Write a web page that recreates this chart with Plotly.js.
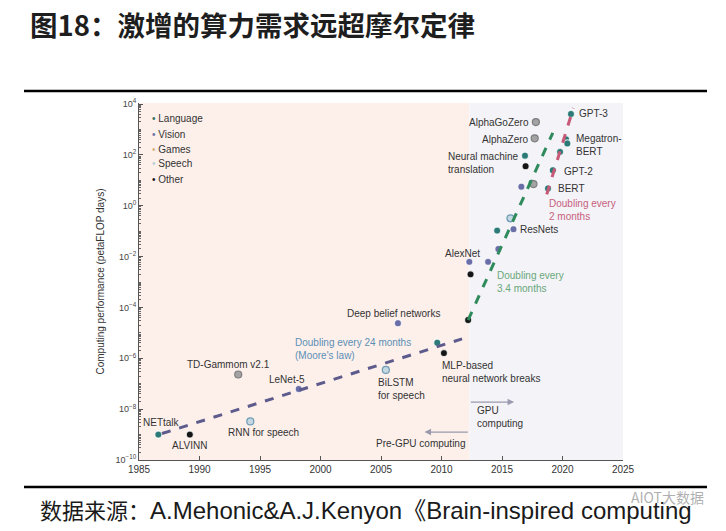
<!DOCTYPE html>
<html><head><meta charset="utf-8">
<script src="https://cdn.plot.ly/plotly-3.0.1.min.js"></script>
<style>body{margin:0;background:#fff}#chart{width:726px;height:531px}</style>
</head><body><div id="chart"></div>
<script>
// ---- data ----
const languageYears  = [1986.6, 2009.65, 2014.6, 2016.9, 2017.45, 2018.8, 2019.2, 2019.8, 2020.3, 2020.4, 2020.7];
const languageValues = [1.0e-9, 4.1e-6, 0.105, 93, 8, 4.8, 25, 132, 407, 282, 4074];
const visionYears    = [1998.2, 2006.4, 2012.3, 2013.85, 2014.7, 2015.95, 2016.6];
const visionValues   = [6.2e-8, 2.4e-5, 6.2e-3, 6.2e-3, 0.02, 0.12, 5.6];
const gamesYears     = [1993.2, 2017.6, 2017.7, 2017.8];
const gamesValues    = [2.3e-7, 7.1, 447, 1950];
const speechYears    = [1994.2, 2005.4, 2015.7];
const speechValues   = [3.3e-9, 3.5e-7, 0.32];
const otherYears     = [1989.2, 2010.2, 2012.2, 2012.4, 2016.95];
const otherValues    = [1.0e-9, 1.6e-6, 3.2e-5, 2.0e-3, 36];

const mooreYears  = [1986.9, 2011.7];
const mooreValues = [1.1e-9, 5.8e-6];
const gpuYears    = [2012.2, 2019.2];
const gpuValues   = [3.2e-5, 740];
const recentYears = [2018.7, 2020.9];
const recentValues= [2.8, 7000];

const categories = ['Language', 'Vision', 'Games', 'Speech', 'Other'];
const xTickYears = [1985, 1990, 1995, 2000, 2005, 2010, 2015, 2020, 2025];
const yTickValues = [1e-10, 1e-8, 1e-6, 1e-4, 1e-2, 1, 1e2, 1e4];
const yTickLabels = ['10<sup>−10</sup>','10<sup>−8</sup>','10<sup>−6</sup>','10<sup>−4</sup>','10<sup>−2</sup>','10<sup>0</sup>','10<sup>2</sup>','10<sup>4</sup>'];
const gpuSplitYear = 2012.3;

// ---- styling ----
const W = 726, H = 531, L = 139, R = 623, T = 103, B = 460;
const px = x => (x - L) / (R - L);
const py = y => (B - y) / (B - T);
const colors = {Language:'#2b7a78', Vision:'#6a6ea8', Games:'#a3a3a3', Speech:'#c3d8e2', Other:'#151515'};
const lines  = {Language:'rgba(255,255,255,0.7)', Vision:'rgba(255,255,255,0.7)', Games:'#7d7d7d', Speech:'#6d9bb3', Other:'rgba(255,255,255,0.7)'};
const series = {
  Language:[languageYears, languageValues], Vision:[visionYears, visionValues],
  Games:[gamesYears, gamesValues], Speech:[speechYears, speechValues], Other:[otherYears, otherValues]
};
const traces = [];
categories.forEach(c => traces.push({
  x: series[c][0], y: series[c][1], mode:'markers', name:c,
  marker:{size:7, color:colors[c], line:{color:lines[c], width:1.2}}
}));
traces.push(
  {x:mooreYears, y:mooreValues, mode:'lines', line:{color:'#5d5a8c', width:3, dash:'dash'}, hoverinfo:'skip'},
  {x:gpuYears, y:gpuValues, mode:'lines', line:{color:'#2f8a5c', width:3, dash:'dash'}, hoverinfo:'skip'},
  {x:recentYears, y:recentValues, mode:'lines', line:{color:'#c85a78', width:3, dash:'dash'}, hoverinfo:'skip'}
);

const lf = {family:'Liberation Sans, Arial, sans-serif', size:10, color:'#333'};
const lab = (text, x, ly, xanchor, extra) => Object.assign({text, x, y:ly, xref:'x', yref:'y', showarrow:false, xanchor, yanchor:'middle', align:xanchor==='center'?'center':xanchor, font:lf}, extra||{});
const annotations = [
  lab('NETtalk', 1986.9, -8.54, 'center'),
  lab('ALVINN', 1989.2, -9.41, 'center'),
  lab('TD-Gammom v2.1', 1992.4, -6.26, 'center'),
  lab('LeNet-5', 1997.25, -6.85, 'center'),
  lab('RNN for speech', 1995.27, -8.90, 'center'),
  lab('BiLSTM<br>for speech', 2004.55, -7.19, 'left'),
  lab('Deep belief networks', 2006.04, -4.22, 'center'),
  lab('Doubling every 24 months<br>(Moore\'s law)', 1997.75, -5.63, 'left', {font:Object.assign({}, lf, {color:'#5b8fb5'})}),
  lab('MLP-based<br>neural network breaks', 2009.85, -6.54, 'left'),
  lab('AlexNet', 2011.75, -1.86, 'center'),
  lab('Doubling every<br>3.4 months', 2014.4, -3.0, 'left', {font:Object.assign({}, lf, {color:'#6aa87a'})}),
  lab('ResNets', 2016.35, -0.92, 'left'),
  lab('Neural machine<br>translation', 2010.35, 1.67, 'left'),
  lab('AlphaGoZero', 2017.4, 3.29, 'right'),
  lab('AlphaZero', 2017.4, 2.62, 'right'),
  lab('GPT-3', 2021.2, 3.63, 'left'),
  lab('Megatron-<br>BERT', 2020.95, 2.37, 'left'),
  lab('GPT-2', 2019.95, 1.34, 'left'),
  lab('BERT', 2019.45, 0.66, 'left'),
  lab('Doubling every<br>2 months', 2018.7, -0.15, 'left', {font:Object.assign({}, lf, {color:'#c8607c'})}),
  lab('GPU<br>computing', 2012.8, -8.31, 'left'),
  lab('Pre-GPU computing', 2008.3, -9.37, 'center'),
  {x:2016.0, y:-7.72, ax:gpuSplitYear, ay:-7.72, xref:'x', yref:'y', axref:'x', ayref:'y', text:'', showarrow:true, arrowhead:2, arrowsize:1, arrowwidth:1.3, arrowcolor:'#9a9aae'},
  {x:2008.6, y:-8.90, ax:gpuSplitYear, ay:-8.90, xref:'x', yref:'y', axref:'x', ayref:'y', text:'', showarrow:true, arrowhead:2, arrowsize:1, arrowwidth:1.3, arrowcolor:'#9a9aae'},
  // footer
  {text:'数据来源：<span style="font-size:24px">A.Mehonic&A.J.Kenyon《Brain-inspired computing</span>', xref:'paper', yref:'paper', x:px(38), y:py(510), xanchor:'left', yanchor:'middle', showarrow:false,
   font:{family:'Liberation Sans, Arial, Noto Sans CJK SC, sans-serif', size:22, color:'#1a1a1a'}},
  {text:'AIOT大数据', xref:'paper', yref:'paper', x:px(706), y:py(497), xanchor:'right', yanchor:'middle', showarrow:false,
   font:{family:'Noto Sans CJK SC, sans-serif', size:14, color:'rgba(150,150,150,0.75)'}}
];
const legendColors = {Language:'#2f6f55', Vision:'#6a6ea8', Games:'#d7b37a', Speech:'#b7d0dc', Other:'#151515'};
categories.forEach((c, i) => annotations.push({
  text:'<span style="color:' + legendColors[c] + '">•</span> ' + c, xref:'paper', yref:'paper',
  x:px(150), y:py(119 + i*15), xanchor:'left', yanchor:'middle', showarrow:false, font:lf
}));

const minorVals = [];
for (let n = -10; n < 4; n++) for (let k = 2; k <= 9; k++) minorVals.push(k * Math.pow(10, n));
for (let n = -9; n <= 3; n += 2) minorVals.push(Math.pow(10, n));

const shapes = [
  {type:'rect', xref:'x', yref:'paper', x0:1985, x1:gpuSplitYear, y0:0, y1:1, fillcolor:'#fdf0eb', line:{width:0}, layer:'below'},
  {type:'rect', xref:'x', yref:'paper', x0:gpuSplitYear, x1:2025, y0:0, y1:1, fillcolor:'#f3f3f8', line:{width:0}, layer:'below'},
  {type:'line', xref:'paper', yref:'paper', x0:px(24), x1:px(707), y0:py(91), y1:py(91), line:{color:'#000', width:2.5}},
  {type:'line', xref:'paper', yref:'paper', x0:px(24), x1:px(707), y0:py(487), y1:py(487), line:{color:'#000', width:2.5}}
];

const layout = {
  width:W, height:H, margin:{l:L, r:W-R, t:T, b:H-B, pad:0},
  paper_bgcolor:'#fff', plot_bgcolor:'#fff', showlegend:false,
  title:{text:'图18：激增的算力需求远超摩尔定律', xref:'container', yref:'container', x:30/W, xanchor:'left', y:1-26/H, yanchor:'middle',
         font:{family:'Noto Sans CJK SC, sans-serif', size:27.5, color:'#1e1e1e', weight:'bold'}},
  xaxis:{range:[1985, 2025], tickvals:xTickYears, ticks:'inside', ticklen:4, tickcolor:'#555', showline:true, linecolor:'#555', linewidth:1,
         showgrid:false, zeroline:false, tickfont:{family:'Liberation Sans, Arial, sans-serif', size:10, color:'#333'}},
  yaxis:{type:'log', range:[-10, 4.04], tickvals:yTickValues, ticktext:yTickLabels, ticks:'inside', ticklen:4, tickcolor:'#555',
         showline:true, linecolor:'#555', linewidth:1, showgrid:false, zeroline:false,
         tickfont:{family:'Liberation Sans, Arial, sans-serif', size:9, color:'#444'},
         minor:{tickvals:minorVals, ticks:'inside', ticklen:2, tickcolor:'#666', showgrid:false},
         title:{text:'Computing performance (petaFLOP days)', standoff:8, font:{family:'Liberation Sans, Arial, sans-serif', size:10, color:'#333'}}},
  shapes, annotations
};
Plotly.newPlot('chart', traces, layout, {displayModeBar:false, staticPlot:true});
</script></body></html>
